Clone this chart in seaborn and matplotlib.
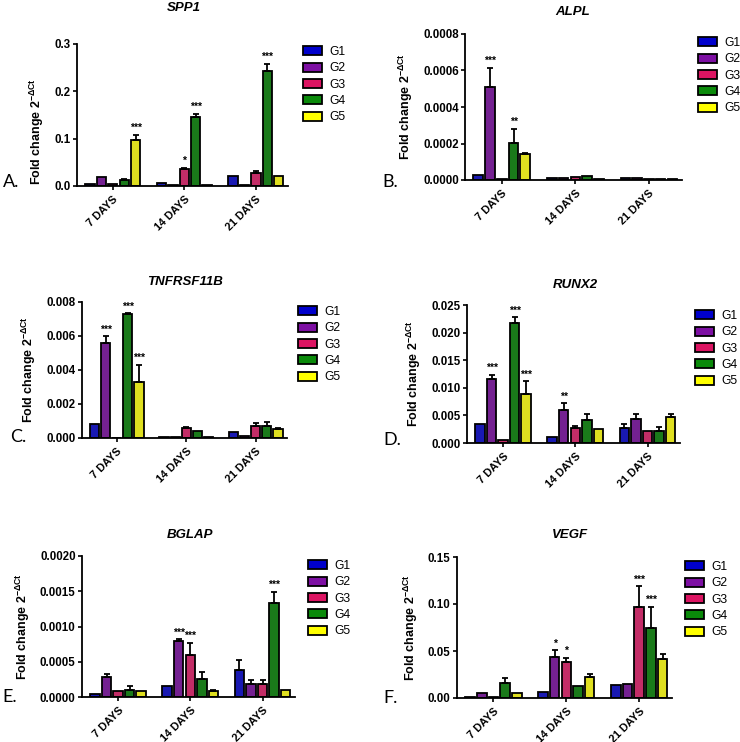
#! /usr/bin/env python3

import numpy as np
import pandas as pd
import seaborn as sns
import matplotlib
matplotlib.use('Agg')

import matplotlib.pyplot as plt
from matplotlib.patches import Patch

days = ['7 DAYS', '14 DAYS', '21 DAYS']
groups = ['G1', 'G2', 'G3', 'G4', 'G5']
colors = ['#0000cc', '#7d0fa3', '#dc1462', '#0a8a0a', '#ffff00']

# means: one row per day, columns G1..G5
spp1_mean = [[0.005, 0.018, 0.004, 0.012, 0.098],
             [0.007, 0.002, 0.035, 0.145, 0.002],
             [0.022, 0.003, 0.027, 0.243, 0.022]]
spp1_err = [[0, 0, 0, 0.002, 0.010],
            [0, 0, 0.003, 0.008, 0],
            [0, 0, 0.005, 0.015, 0]]
spp1_sig = [(0, 4, '***'), (1, 2, '*'), (1, 3, '***'), (2, 3, '***')]

alpl_mean = [[0.000025, 0.00051, 0.000003, 0.000205, 0.000145],
             [0.000012, 0.000013, 0.000015, 0.000022, 0.000004],
             [0.000012, 0.00001, 0.000006, 0.000006, 0.000003]]
alpl_err = [[0, 0.000105, 0, 0.000075, 0.000005],
            [0, 0, 0, 0, 0],
            [0, 0, 0, 0, 0]]
alpl_sig = [(0, 1, '***'), (0, 3, '**')]

tnf_mean = [[0.00085, 0.0056, 0.00002, 0.0073, 0.0033],
            [0.00008, 0.00008, 0.0006, 0.00042, 0.00008],
            [0.00038, 0.0001, 0.00072, 0.0007, 0.00055]]
tnf_err = [[0, 0.0004, 0, 0.00005, 0.001],
           [0, 0, 0.00005, 0, 0],
           [0, 0, 0.00018, 0.00025, 0.00005]]
tnf_sig = [(0, 1, '***'), (0, 3, '***'), (0, 4, '***')]

runx2_mean = [[0.0035, 0.0116, 0.0005, 0.0218, 0.0089],
              [0.0011, 0.0059, 0.0027, 0.0041, 0.0026],
              [0.0028, 0.0044, 0.0021, 0.0022, 0.0048]]
runx2_err = [[0, 0.0008, 0, 0.001, 0.0023],
             [0, 0.0013, 0.0003, 0.0012, 0],
             [0.0007, 0.0008, 0, 0.0007, 0.0004]]
runx2_sig = [(0, 1, '***'), (0, 3, '***'), (0, 4, '***'), (1, 1, '**')]

bglap_mean = [[0.00004, 0.00029, 0.00008, 0.0001, 0.00008],
              [0.00015, 0.00079, 0.0006, 0.00025, 0.00008],
              [0.00038, 0.00019, 0.00019, 0.00133, 0.0001]]
bglap_err = [[0, 0.00004, 0, 0.00005, 0],
             [0, 0.00003, 0.00017, 0.0001, 0.00002],
             [0.00014, 0.00005, 0.00005, 0.00016, 0]]
bglap_sig = [(1, 1, '***'), (1, 2, '***'), (2, 3, '***')]

vegf_mean = [[0.001, 0.005, 0.001, 0.016, 0.005],
             [0.006, 0.044, 0.038, 0.013, 0.022],
             [0.014, 0.015, 0.097, 0.074, 0.042]]
vegf_err = [[0, 0, 0, 0.005, 0],
            [0, 0.007, 0.005, 0, 0.004],
            [0, 0, 0.022, 0.023, 0.005]]
vegf_sig = [(1, 1, '*'), (1, 2, '*'), (2, 2, '***'), (2, 3, '***')]

W, H = 740, 742

plt.rcParams['font.family'] = ['Liberation Sans', 'DejaVu Sans']
plt.rcParams['mathtext.fontset'] = 'custom'
plt.rcParams['mathtext.bf'] = 'Liberation Sans:bold'
plt.rcParams['mathtext.rm'] = 'Liberation Sans:bold'
plt.rcParams['mathtext.default'] = 'bf'


def px(x0, y_top, x1, y_bot):
    return [x0 / W, 1 - y_bot / H, (x1 - x0) / W, (y_bot - y_top) / H]


def panel(fig, rect, title, title_xy, letter, letter_xy, mean, err, sig,
          ymax, step, fmt, leg_xy, label_y=0.5):
    ax = fig.add_axes(px(*rect))
    df = pd.DataFrame([(d, g, mean[i][j]) for i, d in enumerate(days)
                       for j, g in enumerate(groups)],
                      columns=['day', 'group', 'value'])
    sns.barplot(data=df, x='day', y='value', hue='group', order=days,
                hue_order=groups, palette=colors, errorbar=None, gap=0.18,
                edgecolor='black', linewidth=1.3, legend=False, ax=ax)
    # bars sorted left to right: day-major, group-minor
    bars = sorted(ax.patches, key=lambda b: b.get_x())
    centers = {}
    for k, bar in enumerate(bars):
        i, j = k // len(groups), k % len(groups)
        xc = bar.get_x() + bar.get_width() / 2
        centers[(i, j)] = xc
        e = err[i][j]
        if e > 0:
            ax.errorbar([xc], [mean[i][j]], yerr=[[0], [e]], fmt='none',
                        ecolor='black', elinewidth=1.3, capsize=2.5,
                        capthick=1.3)
    for i, j, s in sig:
        ax.text(centers[(i, j)], mean[i][j] + err[i][j] + ymax * 0.012, s,
                ha='center', va='bottom', fontsize=7.5, fontweight='bold')
    ax.set_ylim(0, ymax)
    ax.set_xlim(-0.5, 2.45)
    yt = np.arange(0, ymax + step / 2, step)
    ax.set_yticks(yt)
    ax.set_yticklabels([fmt % v for v in yt], fontsize=8.3, fontweight='bold')
    ax.set_xticks(range(len(days)))
    ax.set_xticklabels(days, rotation=45, ha='right', rotation_mode='anchor',
                       fontsize=7.8, fontweight='bold')
    ax.tick_params(axis='both', length=3, width=1.2, color='black', pad=1.5)
    ax.tick_params(axis='x', pad=3)
    for s in ['top', 'right']:
        ax.spines[s].set_visible(False)
    for s in ['left', 'bottom']:
        ax.spines[s].set_linewidth(1.3)
        ax.spines[s].set_color('black')
    ax.set_xlabel('')
    ax.set_ylabel(r'Fold change 2$^{-\Delta Ct}$', fontsize=9,
                  fontweight='bold', labelpad=6)
    ax.yaxis.label.set_y(label_y)
    fig.text(title_xy[0] / W, 1 - title_xy[1] / H, title, ha='center',
             va='center', fontsize=9.5, fontweight='bold', style='italic')
    fig.text(letter_xy[0] / W, 1 - letter_xy[1] / H, letter, ha='left',
             va='center', fontsize=13, family=['Lato', 'DejaVu Sans'])
    handles = [Patch(facecolor=c, edgecolor='black', linewidth=1.3)
               for c in colors]
    ax.legend(handles, groups, loc='upper left', frameon=False,
              bbox_to_anchor=(leg_xy[0] / W, 1 - leg_xy[1] / H),
              bbox_transform=fig.transFigure, borderpad=0, borderaxespad=0,
              handlelength=1.6, handleheight=0.8, handletextpad=0.6,
              labelspacing=0.36, fontsize=8.7)
    return ax


fig = plt.figure(figsize=(W / 100, H / 100), dpi=100)

panel(fig, (77, 44, 288, 186), 'SPP1', (184, 8), 'A.', (3, 182),
      spp1_mean, spp1_err, spp1_sig, 0.3, 0.1, '%.1f', (303, 46),
      label_y=0.38)
panel(fig, (465, 34, 682, 180), 'ALPL', (573, 12), 'B.', (382, 182),
      alpl_mean, alpl_err, alpl_sig, 0.0008, 0.0002, '%.4f', (698, 37))
panel(fig, (82, 302, 287, 438), 'TNFRSF11B', (185, 282), 'C.', (10, 437),
      tnf_mean, tnf_err, tnf_sig, 0.008, 0.002, '%.3f', (298, 306))
panel(fig, (467, 305, 680, 443), 'RUNX2', (575, 285), 'D.', (383, 440),
      runx2_mean, runx2_err, runx2_sig, 0.025, 0.005, '%.3f', (695, 310))
panel(fig, (82, 556, 295, 697), 'BGLAP', (190, 535), 'E.', (2, 697),
      bglap_mean, bglap_err, bglap_sig, 0.002, 0.0005, '%.4f', (308, 560))
panel(fig, (457, 557, 672, 698), 'VEGF', (570, 535), 'F.', (383, 698),
      vegf_mean, vegf_err, vegf_sig, 0.15, 0.05, '%.2f', (685, 561))

plt.savefig('out.png', dpi=100)
